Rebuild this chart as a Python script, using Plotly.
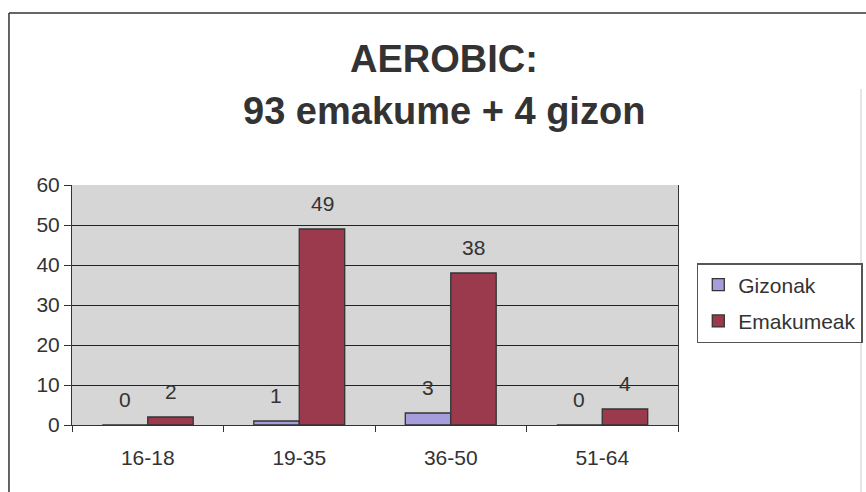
import plotly.graph_objects as go

categories = ["16-18", "19-35", "36-50", "51-64"]
gizonak = [0, 1, 3, 0]
emakumeak = [2, 49, 38, 4]
y_ticks = [0, 10, 20, 30, 40, 50, 60]
title_lines = ["AEROBIC:", "93 emakume + 4 gizon"]

font_family = "Liberation Sans, Arial, sans-serif"
text_col = "#333333"

fig = go.Figure()
fig.add_trace(go.Bar(
    name="Gizonak", x=categories, y=gizonak, legendgroup="g",
    marker=dict(color="#a69ddc", line=dict(color="#333333", width=1.3)),
))
fig.add_trace(go.Bar(
    name="Emakumeak", x=categories, y=emakumeak, legendgroup="e",
    marker=dict(color="#9a3a4c", line=dict(color="#333333", width=1.3)),
))

annotations = []
# value labels above bars
for series, xs in ((gizonak, -23), (emakumeak, 23)):
    for cat, val in zip(categories, series):
        annotations.append(dict(
            x=cat, y=val, xref="x", yref="y", text=str(val), showarrow=False,
            xshift=xs, yshift=26, yanchor="middle", xanchor="center",
            font=dict(size=21, color=text_col, family=font_family),
        ))
# title lines
for txt, yp in zip(title_lines, (1.527, 1.31)):
    annotations.append(dict(
        x=0.614, y=yp, xref="paper", yref="paper", text="<b>" + txt + "</b>",
        showarrow=False, xanchor="center", yanchor="middle",
        font=dict(size=38, color=text_col, family=font_family),
    ))

fig.update_layout(
    width=866, height=492,
    margin=dict(l=72, r=188, t=185, b=67, autoexpand=False),
    paper_bgcolor="white",
    plot_bgcolor="#d6d6d6",
    barmode="group",
    bargap=0.4,
    bargroupgap=0.0,
    font=dict(family=font_family, color=text_col),
    showlegend=True,
    legend=dict(
        x=1.031, y=0.675, xanchor="left", yanchor="top",
        bordercolor="#555555", borderwidth=1.5, bgcolor="white",
        font=dict(size=21, color=text_col, family=font_family),
        itemwidth=30, traceorder="grouped", tracegroupgap=6,
    ),
    xaxis=dict(
        showgrid=False, showline=True, linecolor="#333333", linewidth=1,
        ticks="outside", tickson="boundaries", ticklen=6, tickcolor="#333333",
        tickfont=dict(size=21, color=text_col),
        ticklabelstandoff=14,
    ),
    yaxis=dict(
        range=[0, 60], tickvals=y_ticks, showgrid=True, gridcolor="#222222", gridwidth=1,
        showline=True, linecolor="#333333", linewidth=1, mirror=True,
        ticks="outside", ticklen=7, tickcolor="#333333",
        tickfont=dict(size=21, color=text_col),
        zeroline=False,
    ),
    annotations=annotations,
    shapes=[
        dict(type="line", xref="paper", yref="paper", x0=-0.104, x1=1.35, y0=1.717, y1=1.717,
             line=dict(color="#333333", width=1.5)),
        dict(type="line", xref="paper", yref="paper", x0=-0.104, x1=-0.104, y0=1.717, y1=-0.35,
             line=dict(color="#333333", width=1.5)),
        dict(type="line", xref="paper", yref="paper", x0=1.302, x1=1.302, y0=1.4, y1=-0.35,
             line=dict(color="#cccccc", width=1)),
    ],
)

fig.write_html("out.html", config={"displayModeBar": False},
               post_script="document.body.style.margin='0';")
